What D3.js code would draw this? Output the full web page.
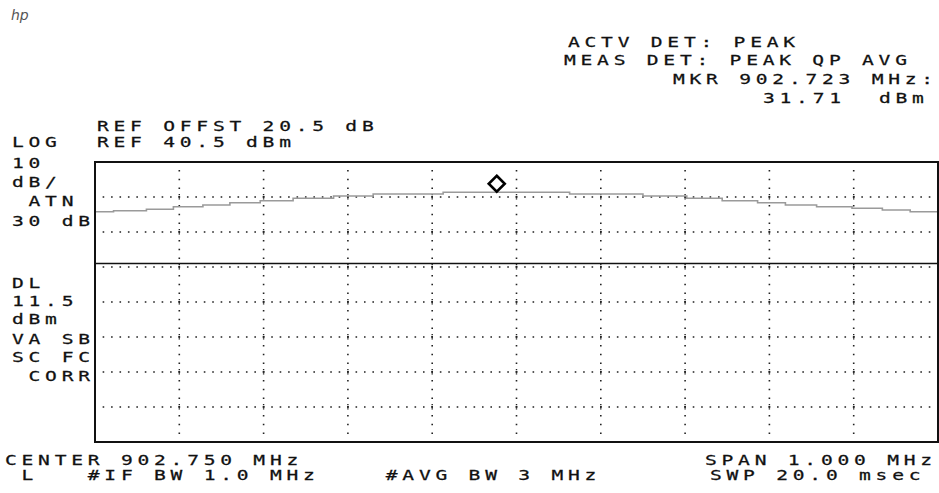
<!DOCTYPE html>
<html>
<head>
<meta charset="utf-8">
<script src="https://cdn.jsdelivr.net/npm/d3@7"></script>
<style>
  body { margin: 0; background: #fff; }
  svg { display: block; }
  text { font-family: "DejaVu Sans Mono", monospace; font-size: 14px; fill: #111; white-space: pre; }
</style>
</head>
<body>
<div id="chart"></div>
<script>
// trace: step start frequency (MHz) and level (dBm)
var stepFreq = [902.250, 902.272, 902.311, 902.343, 902.378, 902.410, 902.446, 902.485, 902.533, 902.580,
                902.663, 902.813, 902.900, 902.952, 902.994, 903.036, 903.069, 903.106, 903.148, 903.184,
                903.217, 903.250]
var stepLevel = [26.30, 26.59, 26.99, 27.73, 28.21, 28.87, 29.44, 30.13, 30.79, 31.36,
                 31.84, 31.36, 30.79, 30.13, 29.44, 28.87, 28.21, 27.73, 27.27, 26.79,
                 26.30, 26.30]

var freqTicks = [902.25, 902.35, 902.45, 902.55, 902.65, 902.75, 902.85, 902.95, 903.05, 903.15, 903.25]
var levelTicks = [40.5, 30.5, 20.5, 10.5, 0.5, -9.5, -19.5, -29.5, -39.5]
var displayLine = 11.5
var marker = { freq: 902.723, level: 31.71 }

// annotation text: [text, x, baseline]
var topRight = [
    ["ACTV DET: PEAK", 568, 47],
    ["MEAS DET: PEAK QP AVG", 564, 64.5],
    ["MKR 902.723 MHz:", 673, 83.5],
    ["31.71  dBm", 763, 103]
]
var leftTop = [
    ["REF OFFST 20.5 dB", 97, 130.5],
    ["REF 40.5 dBm", 97, 147],
    ["LOG", 12, 147],
    ["10", 12, 167.5],
    ["dB/", 12, 186.5],
    [" ATN", 12, 205.5],
    ["30 dB", 12, 226]
]
var leftBottom = [
    ["DL", 12, 288],
    ["11.5", 12, 305.5],
    ["dBm", 12, 323.5],
    ["VA SB", 12, 344],
    ["SC FC", 12, 362],
    [" CORR", 12, 381]
]
var bottom = [
    ["CENTER 902.750 MHz", 5, 465],
    [" L   #IF BW 1.0 MHz    #AVG BW 3 MHz", 5, 480],
    ["SPAN 1.000 MHz", 705, 465],
    ["SWP 20.0 msec", 710, 480]
]

var W = 939, H = 493
var svg = d3.select("#chart").append("svg").attr("width", W).attr("height", H)

var x = d3.scaleLinear().domain([902.25, 903.25]).range([95, 938])
var y = d3.scaleLinear().domain([-39.5, 40.5]).range([442, 162])

// dotted graticule
var dx = (x(freqTicks[1]) - x(freqTicks[0])) / 10
var dy = (y(levelTicks[1]) - y(levelTicks[0])) / 4
var grid = svg.append("g").attr("stroke", "#222").attr("stroke-width", 1.6)
grid.selectAll("line.h")
    .data(levelTicks.slice(1, -1))
    .join("line")
    .attr("class", "h")
    .attr("x1", x.range()[0]).attr("x2", x.range()[1])
    .attr("y1", d => y(d)).attr("y2", d => y(d))
    .attr("stroke-dasharray", `1.6 ${dx - 1.6}`)
    .attr("stroke-dashoffset", 0.8)
grid.selectAll("line.v")
    .data(freqTicks.slice(1, -1))
    .join("line")
    .attr("class", "v")
    .attr("x1", d => x(d)).attr("x2", d => x(d))
    .attr("y1", y.range()[1]).attr("y2", y.range()[0])
    .attr("stroke-dasharray", `1.6 ${dy - 1.6}`)
    .attr("stroke-dashoffset", 0.8)
// small cross marks at grid intersections
var cross = []
freqTicks.slice(1, -1).forEach(f => levelTicks.slice(1, -1).forEach(l => cross.push([f, l])))
grid.selectAll("line.c")
    .data(cross)
    .join("line")
    .attr("class", "c")
    .attr("x1", d => x(d[0])).attr("x2", d => x(d[0]))
    .attr("y1", d => y(d[1]) - 3).attr("y2", d => y(d[1]) + 3)
    .attr("stroke-width", 1.4)
    .attr("stroke-dasharray", "1.2 0.9")

// display line
svg.append("line")
    .attr("x1", x.range()[0]).attr("x2", x.range()[1])
    .attr("y1", y(displayLine)).attr("y2", y(displayLine))
    .attr("stroke", "#111").attr("stroke-width", 1.6)

// trace
var line = d3.line()
    .x((d, i) => x(stepFreq[i]))
    .y(d => y(d))
    .curve(d3.curveStepAfter)
svg.append("path")
    .datum(stepLevel)
    .attr("fill", "none")
    .attr("stroke", "#9a9a9a")
    .attr("stroke-width", 1.6)
    .attr("d", line)

// marker diamond
var mx = x(marker.freq) + 3, my = y(marker.level) - 9
svg.append("path")
    .attr("d", `M${mx},${my - 8}L${mx + 8},${my}L${mx},${my + 8}L${mx - 8},${my}Z`)
    .attr("fill", "none")
    .attr("stroke", "#000")
    .attr("stroke-width", 2.6)

// frame
svg.append("rect")
    .attr("x", x.range()[0]).attr("y", y.range()[1])
    .attr("width", x.range()[1] - x.range()[0])
    .attr("height", y.range()[0] - y.range()[1])
    .attr("fill", "none")
    .attr("stroke", "#111")
    .attr("stroke-width", 2)

// text, monospaced cells of ~16.6px
var sx = 1.4
function label(rows) {
    svg.append("g")
        .selectAll("text")
        .data(rows)
        .join("text")
        .attr("transform", d => `translate(${d[1]},${d[2]}) scale(${sx},1)`)
        .attr("letter-spacing", 16.57 / sx - 8.43)
        .attr("stroke", "#111")
        .attr("stroke-width", 0.25)
        .text(d => d[0])
}
label(topRight)
label(leftTop)
label(leftBottom)
label(bottom)

// hp logo
svg.append("text")
    .attr("x", 11).attr("y", 20)
    .style("font-family", "DejaVu Sans")
    .style("font-style", "italic")
    .style("font-size", "14px")
    .style("fill", "#555")
    .text("hp")
</script>
</body>
</html>
